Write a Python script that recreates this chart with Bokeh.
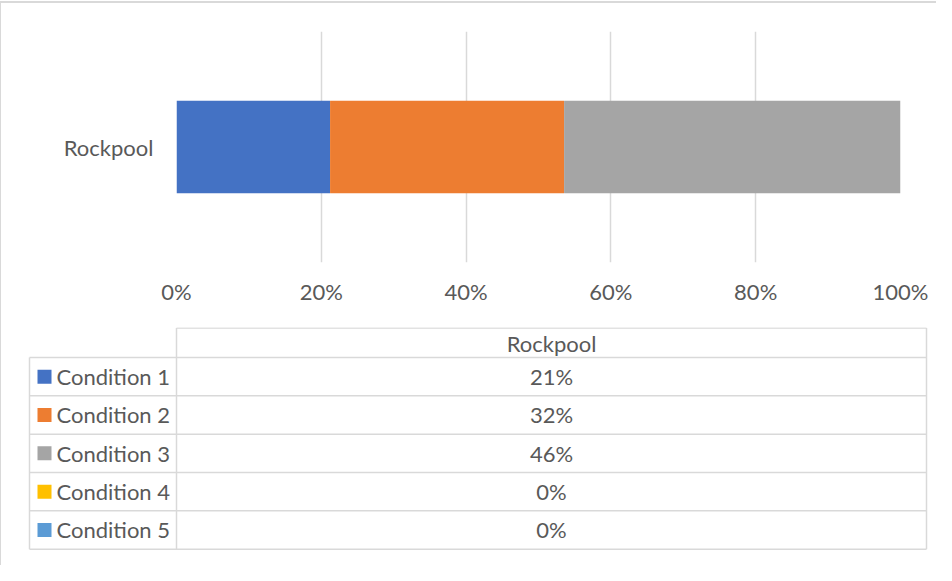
from bokeh.plotting import figure
from bokeh.models import Range1d, FactorRange, NumeralTickFormatter, FixedTicker, ColumnDataSource
from bokeh.layouts import column
from bokeh.embed import file_html
from bokeh.resources import INLINE
from bokeh.core.properties import value

# ---------------- data ----------------
categories = ["Rockpool"]
series_names = ["Condition 1", "Condition 2", "Condition 3", "Condition 4", "Condition 5"]
series_values = [0.21, 0.32, 0.46, 0.00, 0.00]
series_colors = ["#4472C4", "#ED7D31", "#A5A5A5", "#FFC000", "#5B9BD5"]
x_ticks = [0, 0.2, 0.4, 0.6, 0.8, 1.0]

# ---------------- style ----------------
FONT = "Lato"
TXT = "#595959"
GRID = "#D9D9D9"
FS = "22px"

# 100% stacked: normalise each series by the category total
total = sum(series_values)
keys = [f"s{i}" for i in range(len(series_values))]
data = {"cat": categories}
for k, v in zip(keys, series_values):
    data[k] = [v / total]
src = ColumnDataSource(data)

top = figure(width=935, height=324,
             x_range=Range1d(0, 1),
             y_range=FactorRange(*categories, range_padding=0),
             output_backend="svg", toolbar_location=None,
             min_border_left=175, min_border_right=36,
             min_border_top=28, min_border_bottom=65)
top.frame_align = False
top.hbar_stack(keys, y="cat", height=0.4, source=src,
               fill_color=series_colors, line_color=None)

top.outline_line_color = None
top.background_fill_color = "white"
top.border_fill_color = "white"

top.xaxis.ticker = FixedTicker(ticks=x_ticks)
top.xaxis.formatter = NumeralTickFormatter(format="0%")
top.xgrid.ticker = FixedTicker(ticks=x_ticks)
top.xgrid.grid_line_color = GRID
top.xgrid.grid_line_width = 1.5
top.ygrid.visible = False

for ax in (top.xaxis[0], top.yaxis[0]):
    ax.axis_line_color = None
    ax.major_tick_line_color = None
    ax.minor_tick_line_color = None
    ax.major_tick_out = 0
    ax.major_tick_in = 0
    ax.major_label_text_font = FONT
    ax.major_label_text_font_size = FS
    ax.major_label_text_color = TXT
top.xaxis.major_label_standoff = 15
top.yaxis.major_label_standoff = 23

# ---------------- data table ----------------
PAGE_L, PAGE_R = 9, 944
PAGE_T, PAGE_B = 335, 573
tbl = figure(width=PAGE_R - PAGE_L, height=PAGE_B - PAGE_T,
             x_range=Range1d(PAGE_L, PAGE_R), y_range=Range1d(PAGE_B, PAGE_T),
             output_backend="svg", toolbar_location=None, min_border=0)
tbl.frame_align = False
tbl.axis.visible = False
tbl.grid.visible = False
tbl.outline_line_color = None

TBL_L, COL_L, TBL_R = 37, 184, 934
HDR_T, HDR_B = 335.5, 365
ROW_H = 38.33
n = len(series_names)
row_edges = [HDR_B + ROW_H * i for i in range(n + 1)]
TBL_B = row_edges[-1]

xs0, ys0, xs1, ys1 = [], [], [], []
# header top
xs0.append(COL_L); ys0.append(HDR_T); xs1.append(TBL_R); ys1.append(HDR_T)
# horizontal row lines
for yy in row_edges:
    xs0.append(TBL_L); ys0.append(yy); xs1.append(TBL_R); ys1.append(yy)
# verticals
for xx, y_start in ((TBL_L, HDR_B), (COL_L, HDR_T), (TBL_R, HDR_T)):
    xs0.append(xx); ys0.append(y_start); xs1.append(xx); ys1.append(TBL_B)
tbl.segment(x0=xs0, y0=ys0, x1=xs1, y1=ys1, line_color=GRID, line_width=1.5)

col_cx = (COL_L + TBL_R) / 2
tbl.text(x=[col_cx], y=[(HDR_T + HDR_B) / 2 + 0.5], text=categories,
         text_font=value(FONT), text_font_size=FS, text_color=TXT,
         text_align="center", text_baseline="middle")

row_cy = [(row_edges[i] + row_edges[i + 1]) / 2 for i in range(n)]
tbl.text(x=[64] * n, y=row_cy, text=series_names,
         text_font=value(FONT), text_font_size=FS, text_color=TXT,
         text_align="left", text_baseline="middle")
tbl.text(x=[col_cx] * n, y=row_cy, text=[f"{round(v * 100)}%" for v in series_values],
         text_font=value(FONT), text_font_size=FS, text_color=TXT,
         text_align="center", text_baseline="middle")
tbl.rect(x=[52] * n, y=row_cy, width=14, height=14,
         fill_color=series_colors, line_color=None)

layout = column(top, tbl, spacing=0,
                styles={"border-left": "1px solid #D9D9D9",
                        "border-top": "2px solid #D9D9D9",
                        "margin-top": "1px"})

open("out.html", "w").write(file_html(layout, INLINE))
